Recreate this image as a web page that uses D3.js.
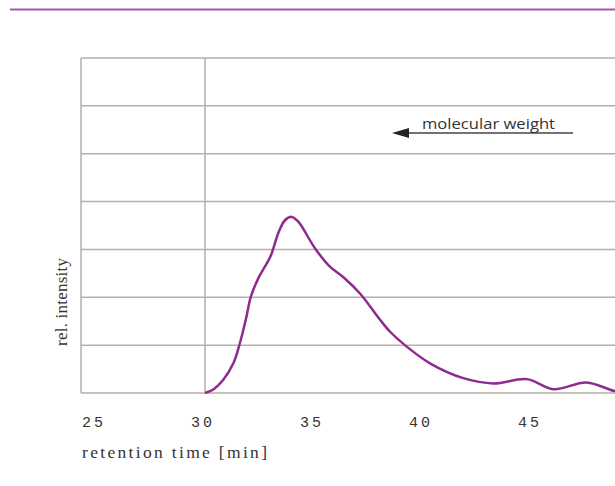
<!DOCTYPE html>
<html>
<head>
<meta charset="utf-8">
<script src="https://cdn.jsdelivr.net/npm/d3@7"></script>
<style>
  html, body { margin: 0; padding: 0; background: #fff; }
  svg { display: block; }
</style>
</head>
<body>
<svg id="chart" width="615" height="486"></svg>
<script>
// ---- data ----
const retentionTime = [30.0, 30.4, 30.83, 31.3, 31.6, 31.9, 32.1, 32.45, 33.0, 33.36, 33.67, 33.98, 34.28, 35.05, 35.73, 36.35, 37.11, 38.03, 38.49, 39.17, 40.32, 41.85, 43.23, 44.76, 45.98, 47.5, 48.8, 49.5];
const relIntensity  = [0.0, 0.08, 0.27, 0.62, 1.04, 1.59, 2.01, 2.40, 2.85, 3.34, 3.61, 3.68, 3.58, 3.02, 2.64, 2.42, 2.08, 1.53, 1.28, 1.0, 0.62, 0.31, 0.20, 0.29, 0.08, 0.22, 0.04, 0.0];
const xTicks = [25, 30, 35, 40, 45];
const yGrid = [0, 1, 2, 3, 4, 5, 6, 7];
const xLabel = "retention time [min]";
const yLabel = "rel. intensity";
const annotation = "molecular weight";

// ---- layout ----
const svg = d3.select("#chart");
const pLeft = 81, pRight = 615, pTop = 58, pBottom = 393;
const x = d3.scaleLinear().domain([30, 35]).range([205, 314]);
const y = d3.scaleLinear().domain([0, 7]).range([pBottom, pTop]);
const gridColor = "#b8afa6";
const curveColor = "#8f2a90";
const textColor = "#333";

// top decorative rule
svg.append("line")
  .attr("x1", 10).attr("x2", 615).attr("y1", 9.5).attr("y2", 9.5)
  .attr("stroke", "#a857a3").attr("stroke-width", 2);

// horizontal grid lines
svg.append("g").selectAll("line").data(yGrid).join("line")
  .attr("x1", pLeft).attr("x2", pRight)
  .attr("y1", d => y(d)).attr("y2", d => y(d))
  .attr("stroke", gridColor).attr("stroke-width", 1.5);

// vertical lines: left border and 30 min
svg.append("line")
  .attr("x1", pLeft).attr("x2", pLeft).attr("y1", pTop).attr("y2", pBottom)
  .attr("stroke", gridColor).attr("stroke-width", 1.5);
svg.append("line")
  .attr("x1", x(30)).attr("x2", x(30)).attr("y1", pTop).attr("y2", pBottom)
  .attr("stroke", gridColor).attr("stroke-width", 1.5);

// x tick labels
svg.append("g").selectAll("text").data(xTicks).join("text")
  .attr("x", d => x(d) - 2)
  .attr("y", 427)
  .attr("text-anchor", "middle")
  .attr("font-family", "Liberation Mono, DejaVu Sans Mono, monospace")
  .attr("font-size", 15)
  .attr("letter-spacing", 3)
  .attr("fill", textColor)
  .text(d => d);

// x axis label
svg.append("text")
  .attr("x", 82).attr("y", 458)
  .attr("font-family", "Liberation Serif, DejaVu Serif, serif")
  .attr("font-size", 17.5)
  .attr("textLength", 185)
  .attr("lengthAdjust", "spacing")
  .attr("fill", textColor)
  .text(xLabel);

// y axis label
svg.append("text")
  .attr("transform", "translate(67,302) rotate(-90)")
  .attr("text-anchor", "middle")
  .attr("font-family", "Liberation Serif, DejaVu Serif, serif")
  .attr("font-size", 17)
  .attr("textLength", 88)
  .attr("lengthAdjust", "spacing")
  .attr("fill", textColor)
  .text(yLabel);

// curve
const pts = retentionTime.map((t, i) => [t, relIntensity[i]]);
const line = d3.line().x(d => x(d[0])).y(d => y(d[1])).curve(d3.curveCatmullRom.alpha(0.5));
svg.append("path")
  .attr("d", line(pts))
  .attr("fill", "none")
  .attr("stroke", curveColor)
  .attr("stroke-width", 2.5)
  .attr("stroke-linejoin", "round");

// annotation arrow
svg.append("line")
  .attr("x1", 573).attr("x2", 402).attr("y1", 133).attr("y2", 133)
  .attr("stroke", "#444").attr("stroke-width", 1.5);
svg.append("path")
  .attr("d", "M392,133 L409,128 L409,138 Z")
  .attr("fill", "#222");

svg.append("text")
  .attr("x", 422).attr("y", 129)
  .attr("font-family", "Open Sans, Noto Sans, sans-serif")
  .attr("font-size", 15)
  .attr("textLength", 133)
  .attr("lengthAdjust", "spacingAndGlyphs")
  .attr("fill", textColor)
  .text(annotation);
</script>
</body>
</html>
